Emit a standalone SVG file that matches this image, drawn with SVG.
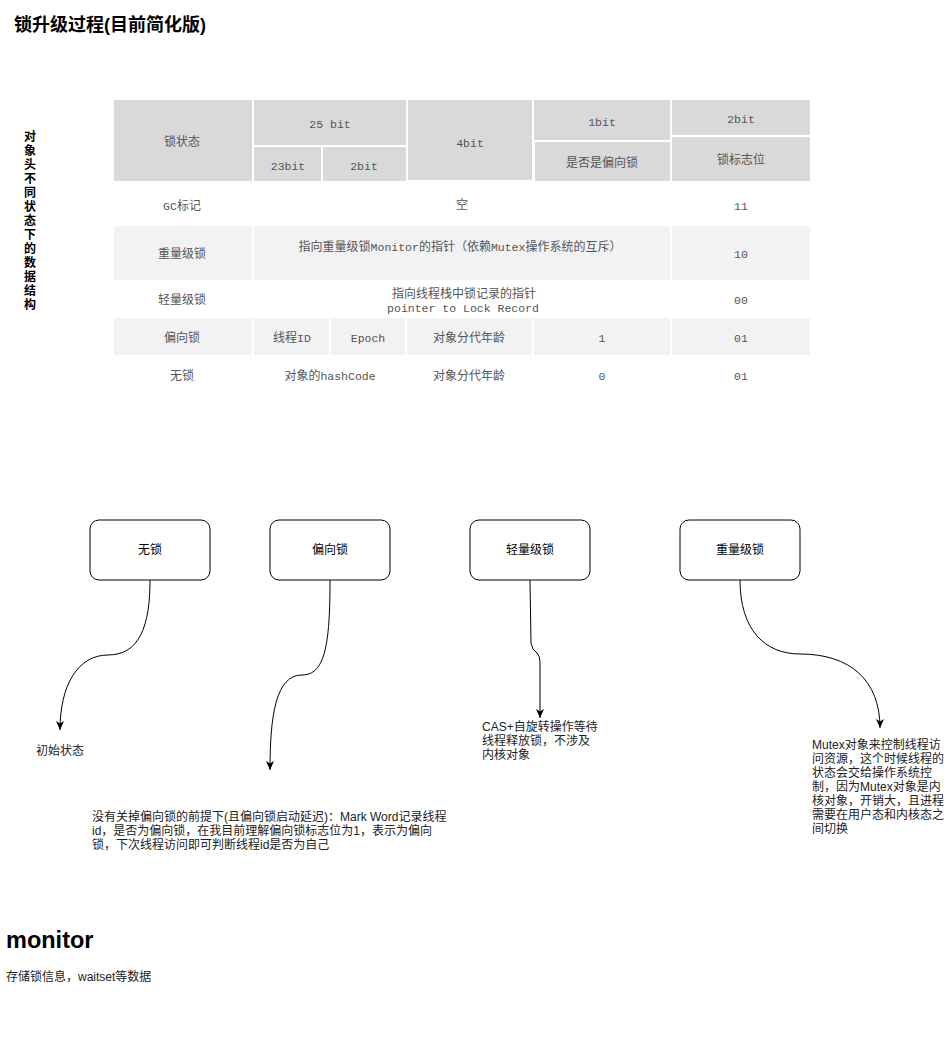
<svg xmlns="http://www.w3.org/2000/svg" width="951" height="1041" viewBox="0 0 951 1041">
<defs>
<style>
.hd{fill:#d9d9d9}
.lt{fill:#f2f2f2}
.tt{font-family:"Liberation Mono","Noto Sans CJK SC",monospace;font-size:12px;fill:#555;text-anchor:middle}
.l{font-size:11.5px}
.sans{font-family:"Liberation Sans","Noto Sans CJK SC",sans-serif;font-size:12px;fill:#222}
.box{fill:#fff;stroke:#000;stroke-width:1}
.bt{font-family:"Liberation Sans","Noto Sans CJK SC",sans-serif;font-size:12px;fill:#000;text-anchor:middle;dominant-baseline:central}
.edge{fill:none;stroke:#000;stroke-width:1;marker-end:url(#arr)}
</style>
<marker id="arr" markerWidth="10" markerHeight="10" refX="9" refY="4" orient="auto" markerUnits="userSpaceOnUse">
<path d="M0,0 L9,4 L0,8 L2.5,4 z" fill="#000"/>
</marker>
</defs>
<rect width="951" height="1041" fill="#fff"/>

<g id="title">
<text x="14" y="31" font-family="Liberation Sans,Noto Sans CJK SC,sans-serif" font-size="18" font-weight="bold" fill="#000">锁升级过程(目前简化版)</text>
</g>

<g id="side-label">
<text x="30" y="137" font-family="Liberation Sans,Noto Sans CJK SC,sans-serif" font-size="12" font-weight="bold" fill="#000" text-anchor="middle" dominant-baseline="central"><tspan x="30">对</tspan><tspan x="30" dy="14">象</tspan><tspan x="30" dy="14">头</tspan><tspan x="30" dy="14">不</tspan><tspan x="30" dy="14">同</tspan><tspan x="30" dy="14">状</tspan><tspan x="30" dy="14">态</tspan><tspan x="30" dy="14">下</tspan><tspan x="30" dy="14">的</tspan><tspan x="30" dy="14">数</tspan><tspan x="30" dy="14">据</tspan><tspan x="30" dy="14">结</tspan><tspan x="30" dy="14">构</tspan></text>
</g>

<g id="table">
<rect class="hd" x="114" y="100" width="138" height="81"/>
<rect class="hd" x="254" y="100" width="152" height="45"/>
<rect class="hd" x="254" y="147" width="67" height="34"/>
<rect class="hd" x="323" y="147" width="83" height="34"/>
<rect class="hd" x="408" y="100" width="124" height="80"/>
<rect class="hd" x="534" y="100" width="136" height="40"/>
<rect class="hd" x="535" y="142" width="135" height="39"/>
<rect class="hd" x="672" y="100" width="138" height="35"/>
<rect class="hd" x="672" y="137" width="138" height="44"/>
<text class="tt" x="182" y="146">锁状态</text>
<text class="tt l" x="330" y="128">25 bit</text>
<text class="tt l" x="288" y="170">23bit</text>
<text class="tt l" x="364" y="170">2bit</text>
<text class="tt l" x="470" y="147">4bit</text>
<text class="tt l" x="602" y="126">1bit</text>
<text class="tt" x="602" y="167">是否是偏向锁</text>
<text class="tt l" x="741" y="123">2bit</text>
<text class="tt" x="741" y="164">锁标志位</text>
<text class="tt" x="182" y="210"><tspan class="l">GC</tspan>标记</text>
<text class="tt" x="462" y="209">空</text>
<text class="tt l" x="741" y="210">11</text>
<rect class="lt" x="114" y="226" width="138" height="54"/>
<rect class="lt" x="254" y="226" width="416" height="54"/>
<rect class="lt" x="672" y="226" width="138" height="54"/>
<text class="tt" x="182" y="258">重量级锁</text>
<text class="tt" x="460" y="251">指向重量级锁<tspan class="l">Monitor</tspan>的指针（依赖<tspan class="l">Mutex</tspan>操作系统的互斥）</text>
<text class="tt l" x="741" y="258">10</text>
<text class="tt" x="182" y="304">轻量级锁</text>
<text class="tt" x="464" y="298">指向线程栈中锁记录的指针</text>
<text class="tt l" x="463" y="312">pointer to Lock Record</text>
<text class="tt l" x="741" y="304">00</text>
<rect class="lt" x="114" y="318" width="138" height="37"/>
<rect class="lt" x="254" y="318" width="75" height="37"/>
<rect class="lt" x="331" y="318" width="74" height="37"/>
<rect class="lt" x="407" y="318" width="125" height="37"/>
<rect class="lt" x="534" y="318" width="136" height="37"/>
<rect class="lt" x="672" y="318" width="138" height="37"/>
<text class="tt" x="182" y="342">偏向锁</text>
<text class="tt" x="292" y="342">线程<tspan class="l">ID</tspan></text>
<text class="tt l" x="368" y="342">Epoch</text>
<text class="tt" x="469" y="342">对象分代年龄</text>
<text class="tt l" x="602" y="342">1</text>
<text class="tt l" x="741" y="342">01</text>
<text class="tt" x="182" y="380">无锁</text>
<text class="tt" x="330" y="380">对象的<tspan class="l">hashCode</tspan></text>
<text class="tt" x="469" y="380">对象分代年龄</text>
<text class="tt l" x="602" y="380">0</text>
<text class="tt l" x="741" y="380">01</text>
</g>

<g id="connectors">
<path class="edge" d="M150,580 C150,625 140,655 108,655 C78,655 60,685 60,730"/>
<path class="edge" d="M330,580 C330,645 325,675 302,675 C276,675 270,715 270,770"/>
<path class="edge" d="M530,580 L531,643 Q532,650 537,653 Q540,656 540,662 L540,718"/>
<path class="edge" d="M740,580 C740,630 765,654 800,654 C850,654 880,680 880,728"/>
</g>

<g id="node-nolock">
<rect class="box" x="90" y="520" width="120" height="60" rx="9"/>
<text class="bt" x="150" y="550">无锁</text>
</g>
<g id="node-biased">
<rect class="box" x="270" y="520" width="120" height="60" rx="9"/>
<text class="bt" x="330" y="550">偏向锁</text>
</g>
<g id="node-light">
<rect class="box" x="470" y="520" width="120" height="60" rx="9"/>
<text class="bt" x="530" y="550">轻量级锁</text>
</g>
<g id="node-heavy">
<rect class="box" x="680" y="520" width="120" height="60" rx="9"/>
<text class="bt" x="740" y="550">重量级锁</text>
</g>

<g id="note-initial">
<text class="sans" x="36" y="755">初始状态</text>
</g>
<g id="note-biased">
<text class="sans" x="92" y="821">没有关掉偏向锁的前提下(且偏向锁启动延迟)：Mark Word记录线程</text>
<text class="sans" x="92" y="835">id，是否为偏向锁，在我目前理解偏向锁标志位为1，表示为偏向</text>
<text class="sans" x="92" y="849">锁，下次线程访问即可判断线程id是否为自己</text>
</g>
<g id="note-light">
<text class="sans" x="482" y="731">CAS+自旋转操作等待</text>
<text class="sans" x="482" y="745">线程释放锁，不涉及</text>
<text class="sans" x="482" y="759">内核对象</text>
</g>
<g id="note-heavy">
<text class="sans" x="812" y="749">Mutex对象来控制线程访</text>
<text class="sans" x="812" y="763">问资源，这个时候线程的</text>
<text class="sans" x="812" y="777">状态会交给操作系统控</text>
<text class="sans" x="812" y="791">制，因为Mutex对象是内</text>
<text class="sans" x="812" y="805">核对象，开销大，且进程</text>
<text class="sans" x="812" y="819">需要在用户态和内核态之</text>
<text class="sans" x="812" y="833">间切换</text>
</g>

<g id="monitor">
<text x="6" y="948" font-family="Liberation Sans,Noto Sans CJK SC,sans-serif" font-size="23.5" font-weight="bold" fill="#000">monitor</text>
<text class="sans" x="6" y="981">存储锁信息，waitset等数据</text>
</g>
</svg>
